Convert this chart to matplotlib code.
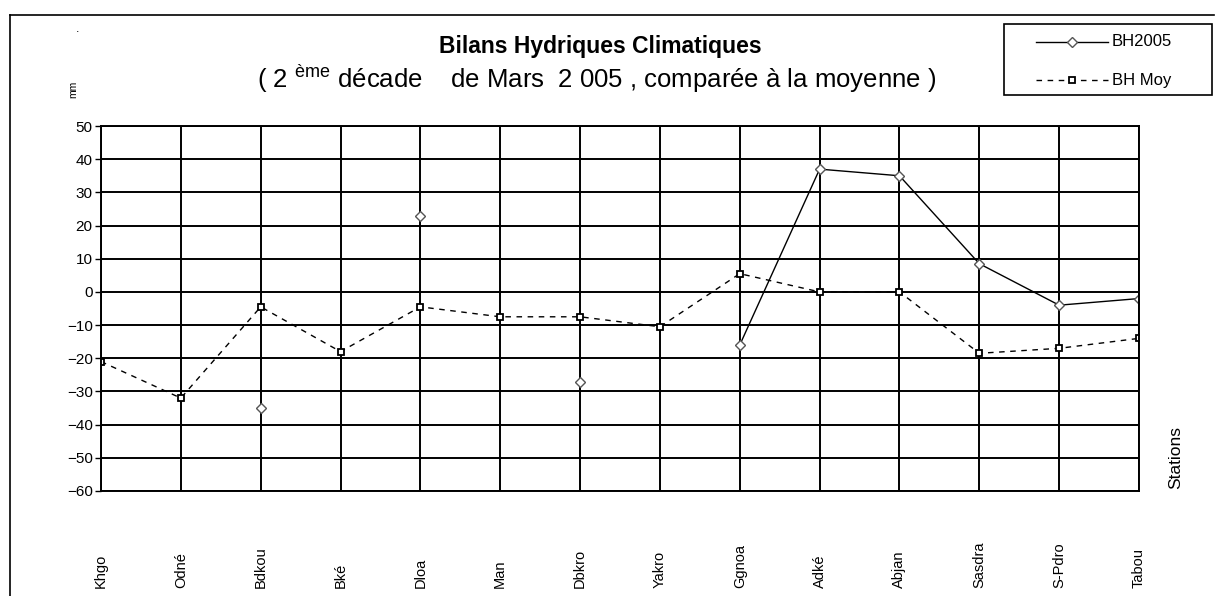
import numpy as np
import matplotlib
matplotlib.use("Agg")
import matplotlib.pyplot as plt
import matplotlib.transforms as mtransforms
from matplotlib.lines import Line2D
from matplotlib.patches import Rectangle

plt.rcParams['font.family'] = ['Liberation Sans', 'DejaVu Sans']
plt.rcParams['mathtext.fontset'] = 'custom'
plt.rcParams['mathtext.rm'] = 'Liberation Sans'

stations = ['Khgo', 'Odné', 'Bdkou', 'Bké', 'Dloa', 'Man', 'Dbkro', 'Yakro',
            'Ggnoa', 'Adké', 'Abjan', 'Sasdra', 'S-Pdro', 'Tabou']
bh2005 = [np.nan, np.nan, -35, np.nan, 23, np.nan, -27, np.nan,
          -16, 37, 35, 8.5, -4, -2]
bh_moy = [-21, -32, -4.5, -18, -4.5, -7.5, -7.5, -10.5,
          5.5, 0, 0, -18.5, -17, -14]
yticks = list(range(-60, 51, 10))

W, H = 1215, 596
fig = plt.figure(figsize=(W / 100, H / 100), dpi=100)
ax = fig.add_axes([101 / W, 1 - 491 / H, (1139 - 101) / W, (491 - 126) / H])

style_2005 = dict(color='black', lw=1.0, marker='D', ms=5,
                  mfc='white', mec='#555555', mew=1.0)
style_moy = dict(color='black', lw=1.0, ls=(0, (4, 4)), marker='s', ms=5,
                 mfc='white', mec='black', mew=1.3)

x = np.arange(len(stations))
ax.plot(x, bh2005, label='BH2005', **style_2005)
ax.plot(x, bh_moy, label='BH Moy', **style_moy)

ax.set_xlim(0, len(stations) - 1)
ax.set_ylim(-60, 50)
ax.set_yticks(yticks)
ax.set_xticks(x)
ax.set_xticklabels([])
ax.tick_params(axis='x', length=0)
ax.tick_params(axis='y', length=4, width=1, direction='out', labelsize=11, pad=2)
ax.grid(True, color='black', lw=1.4)
ax.set_axisbelow(True)
for s in ax.spines.values():
    s.set_linewidth(1.4)

# station labels, rotated, bottom aligned
trans = mtransforms.blended_transform_factory(ax.transData, fig.transFigure)
for i, name in enumerate(stations):
    ax.text(i, 1 - 588 / H, name, transform=trans,
            rotation=90, ha='center', va='bottom', fontsize=10.5)

fig.text(1176 / W, 1 - 489 / H, 'Stations', rotation=90, ha='center', va='bottom', fontsize=12.5)
fig.text(73 / W, 1 - 89 / H, 'mm', rotation=90, ha='center', va='center', fontsize=7.5)
fig.text(78 / W, 1 - 29 / H, '.', ha='center', va='center', fontsize=9)

fig.text(600 / W, 1 - 47 / H, 'Bilans Hydriques Climatiques', ha='center', va='center',
         fontsize=16.5, fontweight='bold')
fig.text(597 / W, 1 - 79 / H,
         '( 2 $^{\\mathrm{ème}}$ décade    de Mars  2 005 , comparée à la moyenne )',
         ha='center', va='center', fontsize=18.5)

# legend box drawn by hand to sit where the original one sits
fig.add_artist(Rectangle((1004 / W, 1 - 95 / H), 208 / W, 71 / H, transform=fig.transFigure,
                         facecolor='white', edgecolor='black', lw=1.2))
for yy, lab, st in [(42, 'BH2005', style_2005), (80, 'BH Moy', style_moy)]:
    st = dict(st)
    mkr = st.pop('marker')
    fig.add_artist(Line2D([1036 / W, 1108 / W], [1 - yy / H] * 2, transform=fig.transFigure, **st))
    st['ls'] = 'none'
    fig.add_artist(Line2D([1072 / W], [1 - yy / H], transform=fig.transFigure,
                          marker=mkr, **st))
    fig.text(1112 / W, 1 - yy / H, lab, ha='left', va='center', fontsize=12)

# outer chart frame
fig.add_artist(Line2D([10 / W, 10 / W], [0, 1 - 15 / H], color='black', lw=1.2,
                      transform=fig.transFigure))
fig.add_artist(Line2D([10 / W, 1 - 1 / W], [1 - 15 / H, 1 - 15 / H], color='black', lw=1.2,
                      transform=fig.transFigure))

fig.savefig('out.png', dpi=100)
